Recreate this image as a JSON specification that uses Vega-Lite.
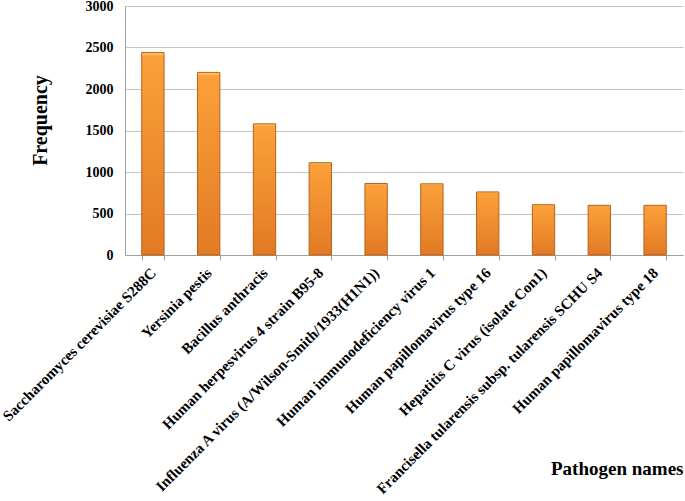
{
  "$schema": "https://vega.github.io/schema/vega-lite/v6.json",
  "width": 558,
  "height": 249,
  "autosize": {"type": "none"},
  "padding": {"left": 125, "top": 6, "right": 2, "bottom": 246},
  "background": "white",
  "data": {
    "values": [
      {"pathogen": "Saccharomyces cerevisiae S288C", "frequency": 2440},
      {"pathogen": "Yersinia pestis", "frequency": 2200},
      {"pathogen": "Bacillus anthracis", "frequency": 1580},
      {"pathogen": "Human herpesvirus 4 strain B95-8", "frequency": 1112},
      {"pathogen": "Influenza A virus (A/Wilson-Smith/1933(H1N1))", "frequency": 862},
      {"pathogen": "Human immunodeficiency virus 1", "frequency": 858},
      {"pathogen": "Human papillomavirus type 16", "frequency": 760},
      {"pathogen": "Hepatitis C virus (isolate Con1)", "frequency": 606},
      {"pathogen": "Francisella tularensis subsp. tularensis SCHU S4", "frequency": 598},
      {"pathogen": "Human papillomavirus type 18", "frequency": 598}
    ]
  },
  "config": {
    "view": {"stroke": null},
    "font": "Liberation Serif"
  },
  "mark": {
    "type": "bar",
    "stroke": "#b8601a",
    "strokeWidth": 1,
    "color": {
      "gradient": "linear",
      "x1": 0, "y1": 0, "x2": 0, "y2": 1,
      "stops": [
        {"offset": 0, "color": "#ffd070"},
        {"offset": 0.02, "color": "#fba03a"},
        {"offset": 1, "color": "#e27a24"}
      ]
    }
  },
  "encoding": {
    "x": {
      "field": "pathogen",
      "type": "nominal",
      "sort": null,
      "scale": {"paddingInner": 0.6, "paddingOuter": 0.3},
      "axis": {
        "title": "Pathogen names",
        "titleFont": "Liberation Serif",
        "titleFontSize": 19,
        "titleFontWeight": "bold",
        "titleColor": "black",
        "titleAnchor": "end",
        "titleAlign": "right",
        "titleX": 558,
        "titleY": 219,
        "titleBaseline": "alphabetic",
        "labelAngle": -45,
        "labelAlign": "right",
        "labelBaseline": "middle",
        "labelFont": "Liberation Serif",
        "labelFontSize": 15,
        "labelFontWeight": "bold",
        "labelColor": "black",
        "labelPadding": 10,
        "labelLimit": 400,
        "tickBand": "extent",
        "tickSize": 5,
        "tickColor": "#a0a0a0",
        "domainColor": "#a0a0a0",
        "grid": false
      }
    },
    "y": {
      "field": "frequency",
      "type": "quantitative",
      "scale": {"domain": [0, 3000], "nice": false},
      "axis": {
        "title": "Frequency",
        "titleFont": "Liberation Serif",
        "titleFontSize": 20,
        "titleFontWeight": "bold",
        "titleColor": "black",
        "titleX": -85,
        "titleY": 114,
        "titleAngle": -90,
        "titleAlign": "center",
        "titleBaseline": "middle",
        "values": [0, 500, 1000, 1500, 2000, 2500, 3000],
        "format": "d",
        "labelFont": "Liberation Serif",
        "labelFontSize": 14,
        "labelFontWeight": "bold",
        "labelColor": "black",
        "labelPadding": 12,
        "tickSize": 0,
        "domainColor": "#a0a0a0",
        "grid": true,
        "gridColor": "#c4c4c4",
        "gridWidth": 1.2
      }
    }
  }
}
